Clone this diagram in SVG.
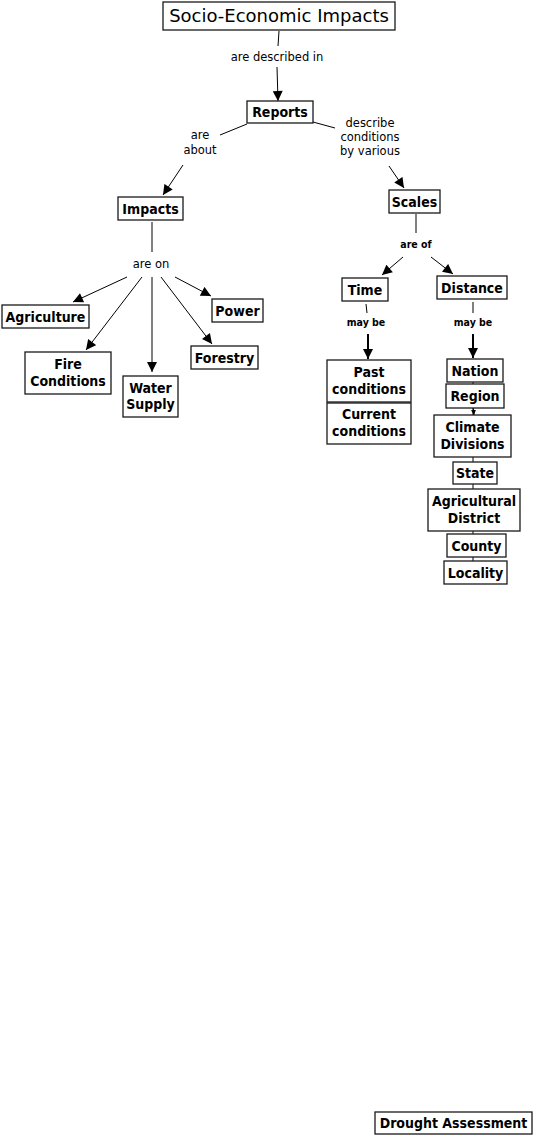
<svg xmlns="http://www.w3.org/2000/svg" width="536" height="1138" viewBox="0 0 536 1138">
<style>
.box{fill:#fff;stroke:#1a1a1a;stroke-width:1.3}
.n{font-family:"DejaVu Sans Condensed","DejaVu Sans",Verdana,sans-serif;font-stretch:condensed;font-weight:bold;font-size:14px;fill:#000;text-anchor:middle}
.t{font-family:"DejaVu Sans",Verdana,sans-serif;font-size:18px;fill:#000;text-anchor:middle}
.l{font-family:"DejaVu Sans",Verdana,sans-serif;font-size:11.5px;fill:#000;text-anchor:middle}
.lb{font-family:"DejaVu Sans Condensed","DejaVu Sans",Verdana,sans-serif;font-stretch:condensed;font-weight:bold;font-size:10.5px;fill:#000;text-anchor:middle}
.c{stroke:#000;stroke-width:1;fill:none}
.ct{stroke:#000;stroke-width:2;fill:none}
</style>
<defs>
<marker id="ah" viewBox="0 0 10 10" refX="10" refY="5" markerWidth="11" markerHeight="10" markerUnits="userSpaceOnUse" orient="auto">
<path d="M0,0 L10,5 L0,10 Z" fill="#000"/>
</marker>
<marker id="ahs" viewBox="0 0 10 10" refX="10" refY="5" markerWidth="5" markerHeight="5" markerUnits="userSpaceOnUse" orient="auto">
<path d="M0,0 L10,5 L0,10 Z" fill="#000"/>
</marker>
</defs>
<g id="connectors">
<line class="c" x1="279" y1="31" x2="278" y2="46"/>
<text class="l" x="277" y="61">are described in</text>
<line class="c" x1="277" y1="67" x2="278" y2="101" marker-end="url(#ah)"/>
<line class="c" x1="247" y1="124" x2="220" y2="135"/>
<text class="l" x="200" y="139">are</text>
<text class="l" x="200" y="154">about</text>
<line class="c" x1="183" y1="165" x2="163" y2="195" marker-end="url(#ah)"/>
<line class="c" x1="313" y1="122" x2="335" y2="128"/>
<text class="l" x="370" y="127">describe</text>
<text class="l" x="370" y="141">conditions</text>
<text class="l" x="370" y="155">by various</text>
<line class="c" x1="389" y1="166" x2="404" y2="188" marker-end="url(#ah)"/>
<line class="c" x1="152" y1="222" x2="152" y2="252"/>
<text class="l" x="151" y="268">are on</text>
<line class="c" x1="127" y1="277" x2="73" y2="302" marker-end="url(#ah)"/>
<line class="c" x1="142" y1="277" x2="86" y2="350" marker-end="url(#ah)"/>
<line class="c" x1="152" y1="277" x2="152" y2="372" marker-end="url(#ah)"/>
<line class="c" x1="161" y1="277" x2="212" y2="344" marker-end="url(#ah)"/>
<line class="c" x1="175" y1="277" x2="211" y2="296" marker-end="url(#ah)"/>
<line class="c" x1="416" y1="214" x2="416" y2="233"/>
<text class="lb" x="416" y="248">are of</text>
<line class="c" x1="403" y1="257" x2="382" y2="275" marker-end="url(#ah)"/>
<line class="c" x1="431" y1="257" x2="453" y2="274" marker-end="url(#ah)"/>
<line class="c" x1="366" y1="304" x2="367" y2="313"/>
<text class="lb" x="366" y="326">may be</text>
<line class="ct" x1="368" y1="334" x2="368" y2="359" marker-end="url(#ah)"/>
<line class="c" x1="473" y1="302" x2="473" y2="313"/>
<text class="lb" x="473" y="326">may be</text>
<line class="ct" x1="473" y1="334" x2="473" y2="358" marker-end="url(#ah)"/>
<line class="c" x1="473" y1="380" x2="473" y2="562"/>
<line class="c" x1="473" y1="405" x2="474" y2="415" marker-end="url(#ahs)"/>
</g>
<g id="n-title"><rect class="box" x="163" y="2" width="232" height="28"/><text class="t" x="279" y="22">Socio-Economic Impacts</text></g>
<g id="n-reports"><rect class="box" x="247" y="101" width="66" height="22"/><text class="n" x="280" y="117">Reports</text></g>
<g id="n-impacts"><rect class="box" x="118" y="197" width="65" height="23"/><text class="n" x="150.5" y="213.5">Impacts</text></g>
<g id="n-scales"><rect class="box" x="389" y="190" width="51" height="23"/><text class="n" x="414.5" y="206.5">Scales</text></g>
<g id="n-agriculture"><rect class="box" x="2" y="305" width="87" height="23"/><text class="n" x="45.5" y="321.5">Agriculture</text></g>
<g id="n-power"><rect class="box" x="212" y="299" width="51" height="23"/><text class="n" x="237.5" y="315.5">Power</text></g>
<g id="n-fire"><rect class="box" x="25" y="352" width="86" height="42"/><text class="n" x="68" y="369">Fire</text><text class="n" x="68" y="386">Conditions</text></g>
<g id="n-water"><rect class="box" x="123" y="376" width="55" height="41"/><text class="n" x="150.5" y="393">Water</text><text class="n" x="150.5" y="409">Supply</text></g>
<g id="n-forestry"><rect class="box" x="191" y="346" width="67" height="23"/><text class="n" x="224.5" y="362.5">Forestry</text></g>
<g id="n-time"><rect class="box" x="342" y="278" width="46" height="23"/><text class="n" x="365" y="294.5">Time</text></g>
<g id="n-distance"><rect class="box" x="437" y="276" width="70" height="23"/><text class="n" x="472" y="292.5">Distance</text></g>
<g id="n-past"><rect class="box" x="327" y="360" width="84" height="42"/><text class="n" x="369" y="377">Past</text><text class="n" x="369" y="394">conditions</text></g>
<g id="n-current"><rect class="box" x="327" y="403" width="84" height="41"/><text class="n" x="369" y="419">Current</text><text class="n" x="369" y="436">conditions</text></g>
<g id="n-nation"><rect class="box" x="447" y="359" width="56" height="23"/><text class="n" x="475" y="375.5">Nation</text></g>
<g id="n-region"><rect class="box" x="446" y="384" width="58" height="24"/><text class="n" x="475" y="400.5">Region</text></g>
<g id="n-climate"><rect class="box" x="434" y="415" width="77" height="42"/><text class="n" x="472.5" y="432">Climate</text><text class="n" x="472.5" y="449">Divisions</text></g>
<g id="n-state"><rect class="box" x="453" y="462" width="44" height="22"/><text class="n" x="475" y="478">State</text></g>
<g id="n-agdistrict"><rect class="box" x="428" y="489" width="92" height="42"/><text class="n" x="474" y="506">Agricultural</text><text class="n" x="474" y="523">District</text></g>
<g id="n-county"><rect class="box" x="447" y="534" width="59" height="23"/><text class="n" x="476.5" y="550.5">County</text></g>
<g id="n-locality"><rect class="box" x="444" y="561" width="63" height="23"/><text class="n" x="475.5" y="577.5">Locality</text></g>
<g id="n-drought"><rect class="box" x="375" y="1112" width="157" height="22"/><text class="n" x="453.5" y="1128">Drought Assessment</text></g>
</svg>
